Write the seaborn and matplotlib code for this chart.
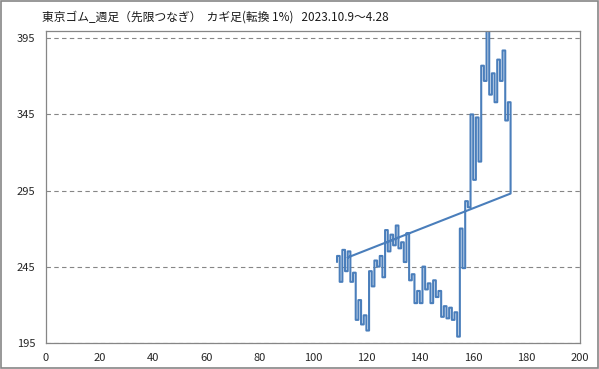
import matplotlib
matplotlib.use("Agg")
import matplotlib.pyplot as plt
from matplotlib.patches import Rectangle
import seaborn as sns
import pandas as pd

# ---- data ----
title = "東京ゴム_週足（先限つなぎ）  カギ足(転換 1%)   2023.10.9～4.28"
first_col_x = 109          # x position of the first kagi vertical line
kagi_levels = [248, 252, 235, 256, 242, 255, 235, 241, 210, 223, 207, 213, 203,
               242, 232, 249, 245, 252, 238, 269, 255, 266, 259, 272, 257, 261,
               248, 267, 236, 240, 221, 229, 221, 245, 230, 234, 221, 236, 225,
               229, 212, 219, 211, 218, 210, 215, 199, 270, 244, 288, 284, 345,
               302, 343, 314, 377, 367, 400, 358, 372, 353, 381, 367, 387, 341,
               353, 293]
closing_point = (113, 251)   # series ends back here (diagonal line)
x_ticks = [0, 20, 40, 60, 80, 100, 120, 140, 160, 180, 200]
y_ticks = [195, 245, 295, 345, 395]

# ---- build the kagi path ----
xs, ys = [], []
for i in range(len(kagi_levels) - 1):
    cx = first_col_x + i
    xs += [cx, cx]
    ys += [kagi_levels[i], kagi_levels[i + 1]]
xs.append(closing_point[0])
ys.append(closing_point[1])
df = pd.DataFrame({"x": xs, "y": ys})

sns.set_theme(style="white")
plt.rcParams["font.family"] = ["Noto Sans CJK JP", "DejaVu Sans"]

W, H = 599, 369
fig = plt.figure(figsize=(W / 100, H / 100), dpi=100)
left, right, top, bottom = 46, 580, 30.7, 342.7
ax = fig.add_axes([left / W, 1 - bottom / H, (right - left) / W, (bottom - top) / H])

sns.lineplot(data=df, x="x", y="y", sort=False, estimator=None,
             color="#4A7EBB", linewidth=1.5, ax=ax)

ax.set_xlim(0, 200)
ax.set_ylim(195, 400)
ax.set_xticks(x_ticks)
ax.set_yticks(y_ticks)
ax.set_xlabel("")
ax.set_ylabel("")
ax.grid(False)
ax.yaxis.grid(True, linestyle=(0, (4, 3)), color="#868686", linewidth=0.8)
ax.set_axisbelow(True)
for s in ax.spines.values():
    s.set_visible(True)
    s.set_color("#868686")
    s.set_linewidth(0.9)
ax.tick_params(direction="out", length=4.5, width=0.8, color="#868686",
               labelsize=8, labelcolor="#262626", pad=3)

fig.text(42 / W, 1 - 17 / H, title, fontsize=8.5, ha="left", va="center", color="#1a1a1a")

fig.patches.append(Rectangle((0.001, 0.002), 0.997, 0.996, transform=fig.transFigure,
                             fill=False, edgecolor="#868686", linewidth=1.2))

fig.savefig("out.png", dpi=100)
